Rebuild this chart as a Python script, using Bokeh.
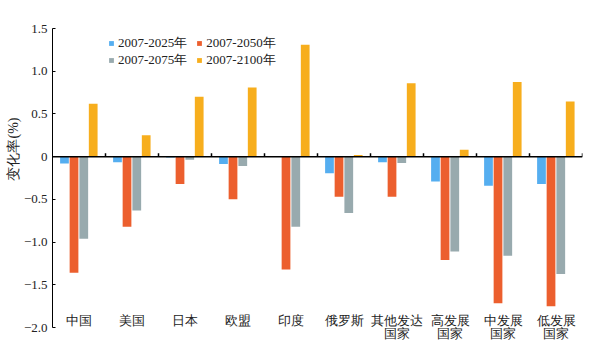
from bokeh.plotting import figure
from bokeh.models import (ColumnDataSource, FixedTicker, Legend, LegendItem, Span, Title, Range1d)
from bokeh.transform import dodge
from bokeh.embed import file_html
from bokeh.resources import INLINE

categories = ["中国", "美国", "日本", "欧盟", "印度", "俄罗斯", "其他发达\n国家", "高发展\n国家", "中发展\n国家", "低发展\n国家"]
series_names = ["2007-2025年", "2007-2050年", "2007-2075年", "2007-2100年"]
v2025 = [-0.08, -0.065, -0.01, -0.085, 0.0, -0.195, -0.065, -0.29, -0.34, -0.32]
v2050 = [-1.36, -0.82, -0.32, -0.50, -1.32, -0.47, -0.47, -1.21, -1.715, -1.75]
v2075 = [-0.96, -0.63, -0.035, -0.11, -0.82, -0.66, -0.075, -1.11, -1.16, -1.375]
v2100 = [0.62, 0.25, 0.70, 0.81, 1.31, 0.02, 0.86, 0.08, 0.875, 0.645]
y_ticks = [-2.0, -1.5, -1.0, -0.5, 0.0, 0.5, 1.0, 1.5]
y_tick_labels = ["−2.0", "−1.5", "−1.0", "−0.5", "0", "0.5", "1.0", "1.5"]

colors = ["#55aef0", "#ec5f2e", "#98aaae", "#f7ae1d"]
offsets = [-0.274, -0.094, 0.09, 0.268]

n = len(categories)
centers = [i + 0.5 for i in range(n)]
source = ColumnDataSource(dict(x=centers, v2025=v2025, v2050=v2050, v2075=v2075, v2100=v2100))

SERIF = "Liberation Serif"

p = figure(width=599, height=353, output_backend="svg", toolbar_location=None,
           x_range=Range1d(0, n), y_range=Range1d(-2.0, 1.5),
           min_border_left=52, min_border_right=17, min_border_top=28, min_border_bottom=26)
p.outline_line_color = None
p.xgrid.grid_line_color = None
p.ygrid.grid_line_color = None
p.background_fill_color = "white"

renderers = []
for col, c, off in zip(["v2025", "v2050", "v2075", "v2100"], colors, offsets):
    r = p.vbar(x=dodge("x", off), top=col, bottom=0, width=0.165, source=source,
               fill_color=c, line_color=None)
    renderers.append(r)

# zero line and category boundary ticks
p.add_layout(Span(location=0, dimension="width", line_color="black", line_width=1.5))
bounds = list(range(1, n + 1))
p.segment(x0=bounds, y0=[0] * n, x1=bounds, y1=[0.04] * n, line_color="black", line_width=1.5)

# x axis
xa = p.xaxis[0]
xa.ticker = FixedTicker(ticks=centers)
xa.major_label_overrides = {c: lab for c, lab in zip(centers, categories)}
xa.axis_line_color = None
xa.major_tick_line_color = None
xa.minor_tick_line_color = None
xa.major_label_standoff = -21
xa.major_label_text_font = SERIF
xa.major_label_text_font_size = "13px"
xa.major_label_text_color = "#222222"
xa.major_label_text_line_height = 0.9

# y axis
ya = p.yaxis[0]
ya.ticker = FixedTicker(ticks=y_ticks)
ya.major_label_overrides = {t: lab for t, lab in zip(y_ticks, y_tick_labels)}
ya.major_tick_in = 3
ya.major_tick_out = 0
ya.minor_tick_line_color = None
ya.axis_line_color = "black"
ya.major_label_text_font = SERIF
ya.major_label_text_font_size = "13px"
ya.major_label_text_color = "#222222"
ya.major_label_standoff = 5

p.add_layout(Title(text="变化率(%)", align="left", offset=147,
                   text_font=SERIF, text_font_size="14px", text_font_style="normal",
                   text_color="#222222", standoff=0), "left")

def make_legend(items, loc):
    lg = Legend(items=items, orientation="horizontal", location=loc)
    lg.glyph_width = 6
    lg.glyph_height = 6
    lg.label_height = 14
    lg.label_standoff = 4
    lg.spacing = 9
    lg.padding = 0
    lg.margin = 0
    lg.border_line_color = None
    lg.background_fill_alpha = 0
    lg.label_text_font = SERIF
    lg.label_text_font_size = "13px"
    lg.label_text_color = "#222222"
    return lg

items = [LegendItem(label=nm, renderers=[r]) for nm, r in zip(series_names, renderers)]
p.add_layout(make_legend([items[0], items[1]], (56, 275)))
p.add_layout(make_legend([items[2], items[3]], (56, 258)))

open("out.html", "w").write(file_html(p, INLINE))
